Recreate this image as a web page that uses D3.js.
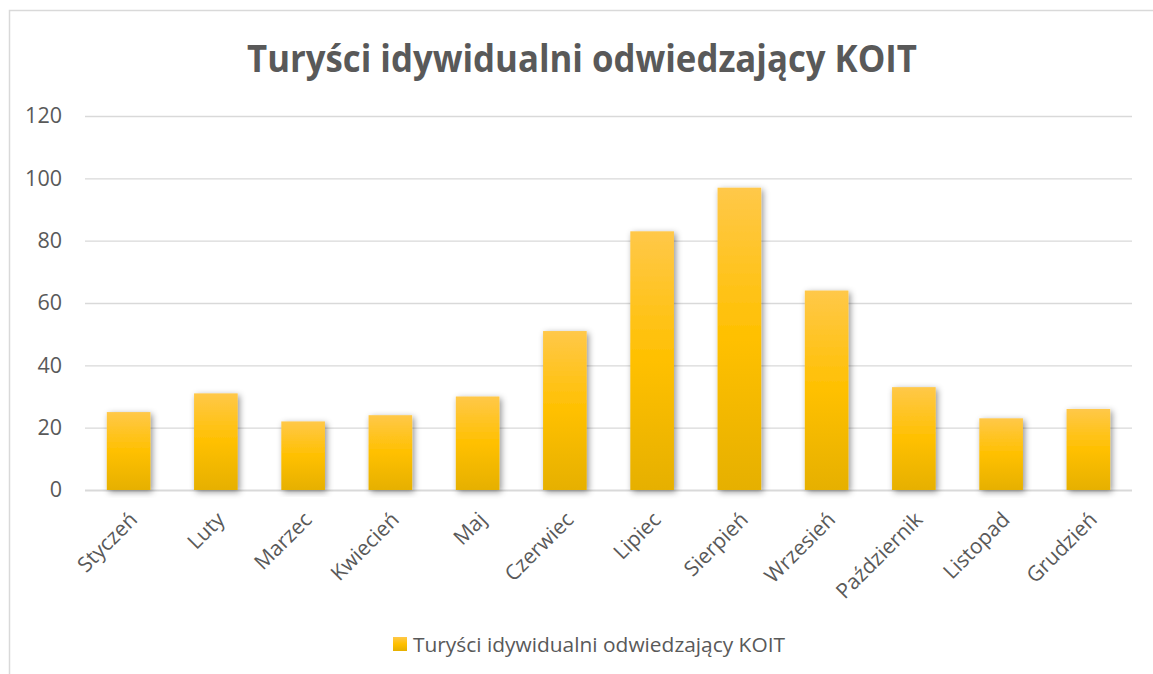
<!DOCTYPE html>
<html>
<head>
<meta charset="utf-8">
<script src="https://cdn.jsdelivr.net/npm/d3@7"></script>
<style>
  html, body { margin: 0; padding: 0; background: #fff; overflow: hidden; }
  #chart { width: 1153px; height: 674px; }
</style>
</head>
<body>
<div id="chart"></div>
<script>
const title = "Turyści idywidualni odwiedzający KOIT";
const seriesName = "Turyści idywidualni odwiedzający KOIT";
const months = ["Styczeń", "Luty", "Marzec", "Kwiecień", "Maj", "Czerwiec",
  "Lipiec", "Sierpień", "Wrzesień", "Październik", "Listopad", "Grudzień"];
const visitors = [25, 31, 22, 24, 30, 51, 83, 97, 64, 33, 23, 26];
const yTicks = [0, 20, 40, 60, 80, 100, 120];

(function() {
  const width = 1153, height = 674;
  const margin = { top: 116, right: 21, bottom: 184, left: 85 };
  const textColor = "#595959";
  const font = "'Open Sans', sans-serif";

  const svg = d3.select("#chart").append("svg")
    .attr("width", width)
    .attr("height", height);

  const defs = svg.append("defs");
  const grad = defs.append("linearGradient")
    .attr("id", "barGrad")
    .attr("x1", 0).attr("y1", 0).attr("x2", 0).attr("y2", 1);
  grad.append("stop").attr("offset", "0%").attr("stop-color", "#ffc849");
  grad.append("stop").attr("offset", "50%").attr("stop-color", "#ffc000");
  grad.append("stop").attr("offset", "100%").attr("stop-color", "#e6b000");

  const shadow = defs.append("filter").attr("id", "shadow")
    .attr("x", "-30%").attr("y", "-10%").attr("width", "160%").attr("height", "120%");
  shadow.append("feDropShadow")
    .attr("dx", 2).attr("dy", 2).attr("stdDeviation", 3)
    .attr("flood-color", "#000").attr("flood-opacity", 0.42);

  // chart frame (runs off the right and bottom edges)
  svg.append("rect")
    .attr("x", 9.5).attr("y", 10.5)
    .attr("width", width + 10).attr("height", height + 10)
    .attr("fill", "#fff")
    .attr("stroke", "#d9d9d9")
    .attr("stroke-width", 1.5);

  const x = d3.scaleBand()
    .domain(months)
    .range([margin.left, width - margin.right])
    .paddingInner(0.5)
    .paddingOuter(0.25);

  const y = d3.scaleLinear()
    .domain([0, 120])
    .range([height - margin.bottom, margin.top]);

  // grid + y labels
  const yAxis = svg.append("g")
    .attr("transform", `translate(${margin.left},0)`)
    .call(d3.axisLeft(y).tickValues(yTicks)
      .tickSize(-(width - margin.left - margin.right))
      .tickPadding(23));
  yAxis.select(".domain").remove();
  yAxis.selectAll(".tick line")
    .attr("stroke", "#d9d9d9")
    .attr("stroke-width", d => d === 0 ? 1.8 : 1.3);
  yAxis.selectAll(".tick text")
    .attr("fill", textColor)
    .style("font-family", font)
    .style("font-size", "21.5px");

  // bars
  svg.append("g").selectAll("rect")
    .data(months)
    .join("rect")
    .attr("x", d => x(d))
    .attr("y", (d, i) => y(visitors[i]))
    .attr("width", x.bandwidth())
    .attr("height", (d, i) => y(0) - y(visitors[i]))
    .attr("fill", "url(#barGrad)")
    .attr("filter", "url(#shadow)");

  // x labels
  const xAxis = svg.append("g")
    .attr("transform", `translate(0,${height - margin.bottom})`)
    .call(d3.axisBottom(x).tickSize(0).tickPadding(0));
  xAxis.select(".domain").remove();
  xAxis.selectAll(".tick text")
    .attr("fill", textColor)
    .style("font-family", font)
    .style("font-size", "21px")
    .attr("text-anchor", "end")
    .attr("dy", 0)
    .attr("transform", "translate(10,31) rotate(-45)");

  // title
  svg.append("text")
    .attr("x", 582)
    .attr("y", 72)
    .attr("text-anchor", "middle")
    .attr("fill", textColor)
    .style("font-family", font)
    .style("font-weight", "bold")
    .style("font-size", "38px")
    .attr("textLength", 670)
    .attr("lengthAdjust", "spacingAndGlyphs")
    .text(title);

  // legend
  const legend = svg.append("g").attr("transform", "translate(393,637)");
  legend.append("rect")
    .attr("width", 14).attr("height", 14)
    .attr("fill", "url(#barGrad)");
  legend.append("text")
    .attr("x", 20).attr("y", 14.5)
    .attr("fill", textColor)
    .style("font-family", font)
    .style("font-size", "20.5px")
    .attr("textLength", 372)
    .attr("lengthAdjust", "spacingAndGlyphs")
    .text(seriesName);
})();
</script>
</body>
</html>
